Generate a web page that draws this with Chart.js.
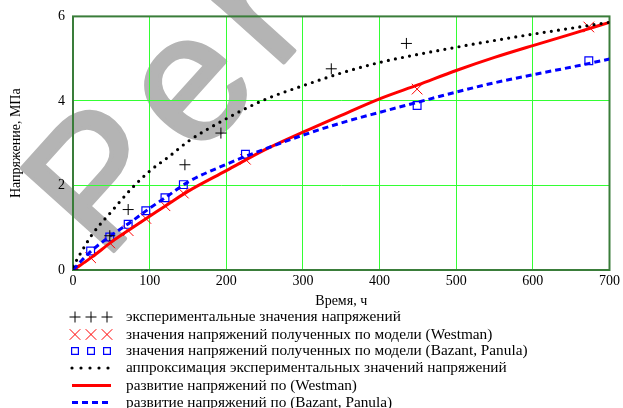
<!DOCTYPE html>
<html>
<head>
<meta charset="utf-8">
<script src="https://cdn.jsdelivr.net/npm/chart.js@4.4.1/dist/chart.umd.min.js"></script>
<style>
  html, body { margin: 0; padding: 0; background: #ffffff; }
  #wrap { width: 623px; height: 408px; position: relative; }
</style>
</head>
<body>
<div id="wrap"><canvas id="c" width="623" height="408"></canvas></div>
<script>
// ---- data ----
const xTicks = [0, 100, 200, 300, 400, 500, 600, 700];
const yTicks = [0, 2, 4, 6];

const curveTime     = [0, 10, 25, 50, 75, 100, 125, 150, 200, 250, 300, 350, 400, 450, 500, 550, 600, 650, 700];
const approxExp     = [0.08, 0.40, 0.84, 1.38, 1.90, 2.34, 2.68, 3.04, 3.58, 4.03, 4.36, 4.66, 4.91, 5.10, 5.27, 5.43, 5.58, 5.72, 5.86];
const westmanCurve  = [0, 0.12, 0.31, 0.66, 0.97, 1.27, 1.57, 1.86, 2.35, 2.84, 3.26, 3.66, 4.05, 4.38, 4.72, 5.03, 5.31, 5.58, 5.86];
const bazantCurve   = [0, 0.20, 0.47, 0.82, 1.13, 1.46, 1.77, 2.08, 2.50, 2.86, 3.19, 3.48, 3.73, 3.97, 4.21, 4.43, 4.62, 4.80, 4.99];

const expTime    = [0, 48, 72, 146, 193, 337, 435];
const expStress  = [0, 0.81, 1.43, 2.49, 3.24, 4.76, 5.36];
const modelTime  = [0, 23, 48, 72, 95, 120, 144, 225, 449, 673];
const westmanPts = [0, 0.29, 0.64, 0.93, 1.22, 1.52, 1.82, 2.62, 4.28, 5.75];
const bazantPts  = [0, 0.45, 0.78, 1.08, 1.40, 1.71, 2.02, 2.74, 3.89, 4.95];

const labels = [
  'экспериментальные значения напряжений',
  'значения напряжений полученных по модели (Westman)',
  'значения напряжений полученных по модели (Bazant, Panula)',
  'аппроксимация экспериментальных значений напряжений',
  'развитие напряжений по (Westman)',
  'развитие напряжений по (Bazant, Panula)'
];
const xTitle = 'Время, ч';
const yTitle = 'Напряжение, МПа';
const watermark = 'Per';

const pts = (xs, ys) => xs.map((x, i) => ({ x: x, y: ys[i] }));

const SERIF = '"Liberation Serif", "Times New Roman", serif';
Chart.defaults.font.family = SERIF;
Chart.defaults.font.size = 14;
Chart.defaults.color = '#000000';

const datasets = [
  { label: labels[0], data: pts(expTime, expStress), showLine: false, pointStyle: 'cross',
    pointRadius: 5.5, pointBorderColor: '#000000', pointBorderWidth: 1, order: 0, legendKind: 'marker' },
  { label: labels[1], data: pts(modelTime, westmanPts), showLine: false, pointStyle: 'crossRot',
    pointRadius: 7.5, pointBorderColor: '#ff0000', pointBorderWidth: 1, order: 4, legendKind: 'marker' },
  { label: labels[2], data: pts(modelTime, bazantPts), showLine: false, pointStyle: 'rect',
    pointRadius: 5.5, pointBorderColor: '#0000ff', pointBackgroundColor: 'rgba(0,0,0,0)', pointBorderWidth: 1.2, order: 3, legendKind: 'marker' },
  { label: labels[3], data: pts(curveTime, approxExp), showLine: true, pointRadius: 0,
    borderColor: '#000000', borderWidth: 3.2, borderDash: [0, 7.2], borderCapStyle: 'round',
    cubicInterpolationMode: 'monotone', order: 1, legendKind: 'line', legendDash: [0, 9] },
  { label: labels[4], data: pts(curveTime, westmanCurve), showLine: true, pointRadius: 0,
    borderColor: '#ff0000', borderWidth: 3, cubicInterpolationMode: 'monotone', order: 2, legendKind: 'line' },
  { label: labels[5], data: pts(curveTime, bazantCurve), showLine: true, pointRadius: 0,
    borderColor: '#0000ff', borderWidth: 3, borderDash: [6, 4], cubicInterpolationMode: 'monotone', order: 1, legendKind: 'line' }
];

const bgPlugin = {
  id: 'bg',
  beforeDraw(chart) {
    const ctx = chart.ctx;
    ctx.save();
    ctx.fillStyle = '#ffffff';
    ctx.fillRect(0, 0, chart.width, chart.height);
    // watermark
    ctx.translate(104, 262);
    ctx.rotate(-48 * Math.PI / 180);
    ctx.font = '180px "Liberation Sans", Arial, sans-serif';
    try { ctx.letterSpacing = '18px'; } catch (e) {}
    ctx.fillStyle = 'rgb(180,180,180)';
    ctx.strokeStyle = 'rgb(180,180,180)';
    ctx.lineWidth = 4;
    ctx.lineJoin = 'round';
    ctx.textBaseline = 'alphabetic';
    ctx.textAlign = 'left';
    ctx.fillText(watermark, 0, 0);
    ctx.strokeText(watermark, 0, 0);
    ctx.restore();
  }
};

const frame = {
  id: 'frame',
  beforeDatasetsDraw(chart) {
    const { ctx, chartArea: a } = chart;
    ctx.save();
    ctx.strokeStyle = '#3a7d3a';
    ctx.lineWidth = 2;
    ctx.strokeRect(a.left, a.top, a.right - a.left, a.bottom - a.top);
    ctx.restore();
  }
};

const legendPlugin = {
  id: 'customLegend',
  afterDraw(chart) {
    const ctx = chart.ctx;
    const rowY = [317, 334.5, 351, 368, 385.5, 402.5];
    const symX = [75, 91, 107];
    ctx.save();
    chart.data.datasets.forEach((ds, i) => {
      const y = rowY[i];
      if (ds.legendKind === 'marker') {
        symX.forEach(x => {
          ctx.strokeStyle = ds.pointBorderColor;
          ctx.fillStyle = 'rgba(0,0,0,0)';
          ctx.lineWidth = ds.pointBorderWidth;
          Chart.helpers.drawPoint(ctx, {
            pointStyle: ds.pointStyle,
            radius: ds.pointStyle === 'rect' ? 4.8 : ds.pointRadius,
            rotation: 0,
            borderWidth: ds.pointBorderWidth
          }, x, y);
        });
      } else {
        ctx.beginPath();
        ctx.strokeStyle = ds.borderColor;
        ctx.lineWidth = ds.borderWidth;
        ctx.lineCap = ds.borderCapStyle || 'butt';
        ctx.setLineDash(ds.legendDash || ds.borderDash || []);
        ctx.moveTo(72, y);
        ctx.lineTo(111, y);
        ctx.stroke();
        ctx.setLineDash([]);
        ctx.lineCap = 'butt';
      }
      ctx.fillStyle = '#000000';
      ctx.font = '15.3px ' + SERIF;
      ctx.textBaseline = 'middle';
      ctx.textAlign = 'left';
      ctx.fillText(ds.label, 126, y);
    });
    ctx.restore();
  }
};

new Chart(document.getElementById('c'), {
  type: 'scatter',
  data: { datasets: datasets },
  options: {
    responsive: false,
    animation: false,
    events: [],
    layout: { padding: { left: 0, right: 12.4, top: 16, bottom: 98 } },
    plugins: { legend: { display: false }, tooltip: { enabled: false } },
    scales: {
      x: {
        type: 'linear', min: 0, max: 700,
        afterBuildTicks: s => { s.ticks = xTicks.map(v => ({ value: v })); },
        afterFit: s => { s.height = 40; },
        grid: { color: '#33ff33', lineWidth: 1, drawTicks: false },
        border: { display: false },
        ticks: { padding: 3, font: { size: 14 }, color: '#000000', maxRotation: 0 },
        title: { display: true, text: xTitle, font: { size: 14 }, padding: { top: 0, bottom: 0 } }
      },
      y: {
        type: 'linear', min: 0, max: 6,
        afterBuildTicks: s => { s.ticks = yTicks.map(v => ({ value: v })); },
        afterFit: s => { s.width = 73; },
        grid: { color: '#33ff33', lineWidth: 1, drawTicks: false },
        border: { display: false },
        ticks: { padding: 8, font: { size: 14 }, color: '#000000' },
        title: { display: true, text: yTitle, font: { size: 14 }, padding: { top: 7.6, bottom: 0 } }
      }
    }
  },
  plugins: [bgPlugin, frame, legendPlugin]
});
</script>
</body>
</html>
